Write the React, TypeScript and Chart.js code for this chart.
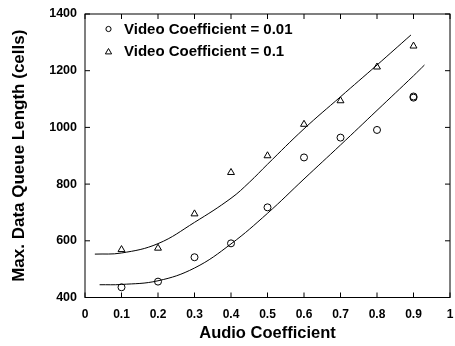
import React, { useEffect, useRef } from "react";
import { Chart, registerables } from "chart.js";

Chart.register(...registerables);

// Measured data
const audioCoefficients = [0.1, 0.2, 0.3, 0.4, 0.5, 0.6, 0.7, 0.8, 0.9];
const queueVideo001 = [436, 456, 542, 591, 718, 894, 964, 991, 1109];
const queueVideo01 = [569, 574, 695, 841, 900, 1011, 1094, 1213, 1287];
// second, almost overlapping circle at 0.9 (bold-looking marker)
const repeatAudio = [0.9];
const repeatVideo001 = [1105];

// Fitted curves
const fitLowX = [0.04, 0.1, 0.2, 0.3, 0.4, 0.5, 0.6, 0.7, 0.8, 0.9, 0.93];
const fitLowY = [445, 446, 459, 504, 589, 697, 818, 938, 1060, 1182, 1220];
const fitHighX = [0.027, 0.1, 0.2, 0.3, 0.4, 0.45, 0.5, 0.6, 0.7, 0.8, 0.893];
const fitHighY = [553, 557, 590, 665, 750, 806, 870, 995, 1108, 1220, 1326];

const xMin = 0, xMax = 1, xStep = 0.1;
const yMin = 400, yMax = 1400, yStep = 200;

const legendLabels = ["Video Coefficient = 0.01", "Video Coefficient = 0.1"];
const xTitle = "Audio Coefficient";
const yTitle = "Max. Data Queue Length (cells)";

const FONT = "'Liberation Sans', Arial, Helvetica, sans-serif";

const framePlugin = {
  id: "frameTicksLegend",
  afterDraw(chart: any) {
    const { ctx, chartArea, scales } = chart;
    const { left, right, top, bottom } = chartArea;
    ctx.save();
    ctx.strokeStyle = "#000";
    ctx.lineWidth = 1;
    ctx.strokeRect(left, top, right - left, bottom - top);
    const tl = 5;
    ctx.beginPath();
    scales.x.ticks.forEach((t: any) => {
      const px = scales.x.getPixelForValue(t.value);
      ctx.moveTo(px, bottom);
      ctx.lineTo(px, bottom - tl);
      ctx.moveTo(px, top);
      ctx.lineTo(px, top + tl);
    });
    scales.y.ticks.forEach((t: any) => {
      const py = scales.y.getPixelForValue(t.value);
      ctx.moveTo(left, py);
      ctx.lineTo(left + tl, py);
      ctx.moveTo(right, py);
      ctx.lineTo(right - tl, py);
    });
    ctx.stroke();

    // legend
    const mx = left + 23.5;
    const tx = left + 39;
    const rows = [top + 15, top + 37.5];
    ctx.lineWidth = 1;
    ctx.beginPath();
    ctx.arc(mx, rows[0], 2.6, 0, Math.PI * 2);
    ctx.stroke();
    const r = 3.6;
    ctx.beginPath();
    for (let i = 0; i < 3; i++) {
      const a = (i * 2 * Math.PI) / 3;
      const px = mx + Math.sin(a) * r;
      const py = rows[1] + 0.6 - Math.cos(a) * r;
      if (i === 0) ctx.moveTo(px, py);
      else ctx.lineTo(px, py);
    }
    ctx.closePath();
    ctx.stroke();
    ctx.fillStyle = "#000";
    ctx.font = `bold 15px ${FONT}`;
    ctx.textBaseline = "middle";
    ctx.textAlign = "left";
    ctx.fillText(legendLabels[0], tx, rows[0] + 0.5);
    ctx.fillText(legendLabels[1], tx, rows[1] + 0.5);
    ctx.restore();
  },
};

export default function App() {
  const canvasRef = useRef<HTMLCanvasElement | null>(null);

  useEffect(() => {
    document.body.style.margin = "0";
    const canvas = canvasRef.current;
    if (!canvas) return;

    const circles = audioCoefficients
      .map((x, i) => ({ x, y: queueVideo001[i] }))
      .concat(repeatAudio.map((x, i) => ({ x, y: repeatVideo001[i] })));
    const triangles = audioCoefficients.map((x, i) => ({ x, y: queueVideo01[i] }));
    const lowFit = fitLowX.map((x, i) => ({ x, y: fitLowY[i] }));
    const highFit = fitHighX.map((x, i) => ({ x, y: fitHighY[i] }));

    const chart = new Chart(canvas, {
      type: "scatter",
      data: {
        datasets: [
          {
            label: legendLabels[0],
            data: circles,
            pointStyle: "circle",
            pointRadius: 3.5,
            borderColor: "#000",
            backgroundColor: "rgba(0,0,0,0)",
            borderWidth: 1,
          },
          {
            label: legendLabels[1],
            data: triangles,
            pointStyle: "triangle",
            pointRadius: 4,
            borderColor: "#000",
            backgroundColor: "rgba(0,0,0,0)",
            borderWidth: 1,
          },
          {
            label: "fit low",
            data: lowFit,
            showLine: true,
            pointRadius: 0,
            borderColor: "#000",
            borderWidth: 1,
            tension: 0.4,
            fill: false,
          },
          {
            label: "fit high",
            data: highFit,
            showLine: true,
            pointRadius: 0,
            borderColor: "#000",
            borderWidth: 1,
            tension: 0.4,
            fill: false,
          },
        ],
      } as any,
      options: {
        animation: false,
        responsive: true,
        maintainAspectRatio: false,
        layout: { padding: { top: 14, right: 3, left: 0, bottom: 0 } },
        plugins: {
          legend: { display: false },
          tooltip: { enabled: false },
        },
        scales: {
          x: {
            type: "linear",
            min: xMin,
            max: xMax,
            grid: { display: false, drawTicks: false },
            border: { display: false },
            ticks: {
              stepSize: xStep,
              padding: 10,
              color: "#000",
              font: { family: FONT, size: 12, weight: "bold" },
              maxRotation: 0,
              autoSkip: false,
              callback: (v: any) => String(Math.round(Number(v) * 10) / 10),
            },
            title: {
              display: true,
              text: xTitle,
              color: "#000",
              font: { family: FONT, size: 16.5, weight: "bold" },
              padding: { top: 0, bottom: 3 },
            },
            afterFit: (scale: any) => {
              scale.height = 48.5;
              scale.paddingLeft = 0;
              scale.paddingRight = 0;
            },
          },
          y: {
            type: "linear",
            min: yMin,
            max: yMax,
            grid: { display: false, drawTicks: false },
            border: { display: false },
            ticks: {
              stepSize: yStep,
              padding: 8,
              color: "#000",
              font: { family: FONT, size: 12.5, weight: "bold" },
              callback: (v: any) => String(v),
            },
            title: {
              display: true,
              text: yTitle,
              color: "#000",
              font: { family: FONT, size: 17, weight: "bold" },
              padding: { top: 9, bottom: 0 },
            },
            afterFit: (scale: any) => {
              scale.width = 85;
              scale.paddingTop = 0;
              scale.paddingBottom = 0;
            },
          },
        },
      } as any,
      plugins: [framePlugin],
    });

    return () => chart.destroy();
  }, []);

  return (
    <div style={{ position: "relative", width: 455, height: 346 }}>
      <canvas ref={canvasRef} />
    </div>
  );
}
